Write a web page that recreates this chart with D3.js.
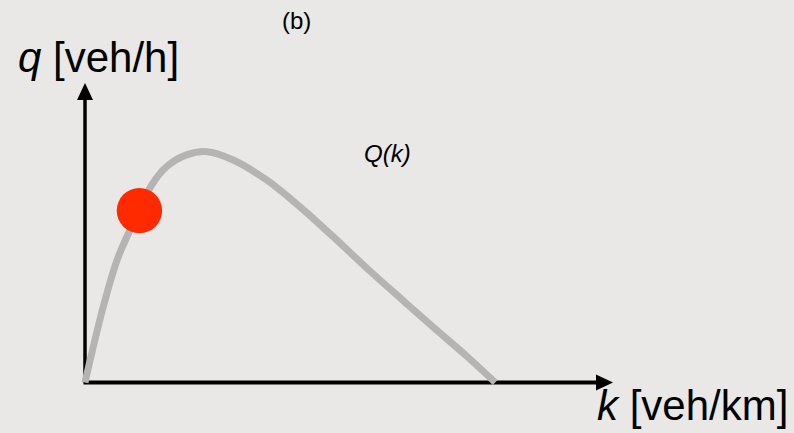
<!DOCTYPE html>
<html>
<head>
<meta charset="utf-8">
<script src="https://cdn.jsdelivr.net/npm/d3@7"></script>
<style>
  html, body { margin: 0; padding: 0; background: #e9e8e6; }
  svg { display: block; }
  text { font-family: "Liberation Sans", Arial, sans-serif; fill: #000; }
</style>
</head>
<body>
<svg id="chart" width="794" height="433"></svg>
<script>
// Fundamental diagram: flow q as a function of density k
const density = [0, 4.5, 8.2, 13.4, 16.4, 20.1, 25.0, 30.0, 36.5, 44.7, 52.9, 61.1, 69.4, 77.6, 85.8, 94.0, 101];
const flow    = [0, 32.9, 54.6, 74.6, 85.7, 93.7, 98.8, 100.2, 96.6, 87.9, 76.3, 63.3, 49.6, 36.7, 23.9, 11.4, 0];

// Highlighted operating point on the curve
const pointK = [13.4];
const pointQ = [74.6];

// Axis extents and labels
const kMax = 130;
const qMax = 130;
const panelLabel = "(b)";
const curveLabel = "Q(k)";

const svg = d3.select("#chart");

const x = d3.scaleLinear().domain([0, kMax]).range([85, 613]);
const y = d3.scaleLinear().domain([0, qMax]).range([382.5, 83]);

// Axes with arrowheads
const axes = svg.append("g");
axes.append("line")
  .attr("x1", x(0)).attr("y1", y(0))
  .attr("x2", x(0)).attr("y2", y(qMax) + 14)
  .attr("stroke", "#000").attr("stroke-width", 3.5);
axes.append("line")
  .attr("x1", x(0) - 1.5).attr("y1", y(0))
  .attr("x2", x(kMax) - 14).attr("y2", y(0))
  .attr("stroke", "#000").attr("stroke-width", 4);
axes.append("path")
  .attr("d", `M${x(0)},${y(qMax)} L${x(0) - 8},${y(qMax) + 17} L${x(0) + 8},${y(qMax) + 17} Z`)
  .attr("fill", "#000");
axes.append("path")
  .attr("d", `M${x(kMax)},${y(0)} L${x(kMax) - 17},${y(0) - 8} L${x(kMax) - 17},${y(0) + 8} Z`)
  .attr("fill", "#000");

// Flow-density curve
const line = d3.line()
  .x((d, i) => x(density[i]))
  .y((d, i) => y(flow[i]))
  .curve(d3.curveCatmullRom.alpha(0.5));

svg.append("path")
  .datum(density)
  .attr("d", line)
  .attr("fill", "none")
  .attr("stroke", "#b4b4b4")
  .attr("stroke-width", 7);

// Operating point
svg.selectAll("circle.pt")
  .data(pointK)
  .join("circle")
  .attr("class", "pt")
  .attr("cx", (d) => x(d))
  .attr("cy", (d, i) => y(pointQ[i]))
  .attr("r", 22.7)
  .attr("fill", "#ff2a00");

// Labels
svg.append("text")
  .attr("x", 282).attr("y", 29)
  .attr("font-size", 24)
  .text(panelLabel);

const yLab = svg.append("text").attr("x", 18).attr("y", 72).attr("font-size", 42);
yLab.append("tspan").attr("font-style", "italic").text("q");
yLab.append("tspan").text(" [veh/h]");

const xLab = svg.append("text").attr("x", 597).attr("y", 420).attr("font-size", 42);
xLab.append("tspan").attr("font-style", "italic").text("k");
xLab.append("tspan").text(" [veh/km]");

svg.append("text")
  .attr("x", 364).attr("y", 162)
  .attr("font-size", 24)
  .attr("font-style", "italic")
  .text(curveLabel);
</script>
</body>
</html>
